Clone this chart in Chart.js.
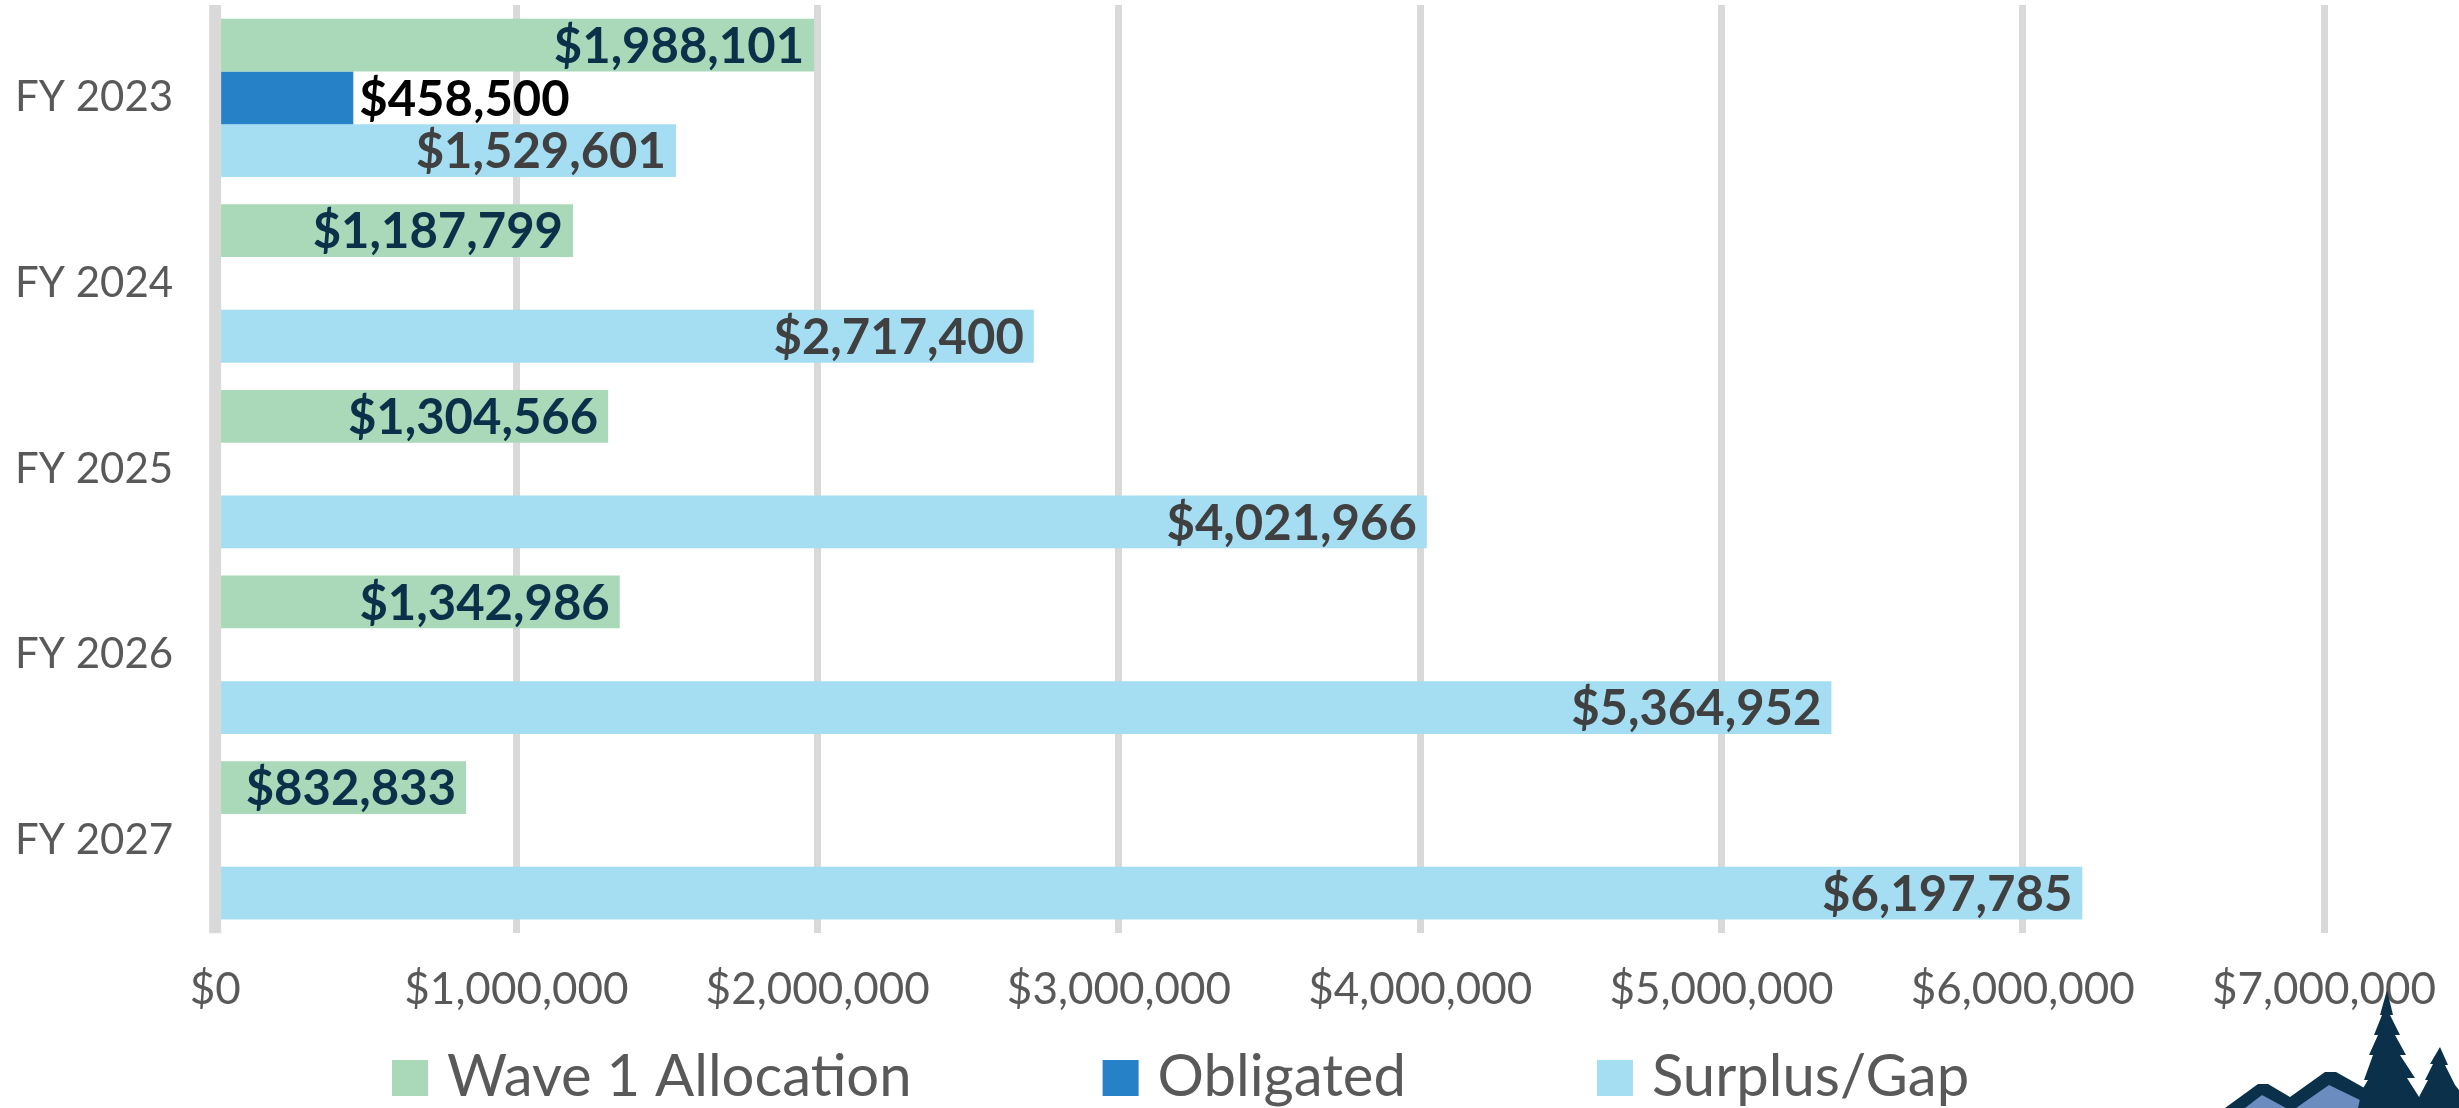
<!DOCTYPE html>
<html>
<head>
<meta charset="utf-8">
<title>Wave 1 Allocation vs Surplus/Gap</title>
<script src="https://cdn.jsdelivr.net/npm/chart.js@4.4.1/dist/chart.umd.min.js"></script>
<style>
    html, body { margin: 0; padding: 0; background: #ffffff; }
    #wrap { width: 2459px; height: 1108px; }
</style>
</head>
<body>
<div id="wrap"><canvas id="barChart" width="2459" height="1108"></canvas></div>
<script>
// chart values
var years = ['FY 2023', 'FY 2024', 'FY 2025', 'FY 2026', 'FY 2027'];
var wave1Allocation = [1988101, 1187799, 1304566, 1342986, 832833];
var obligated = [458500, null, null, null, null];
var surplusGap = [1529601, 2717400, 4021966, 5364952, 6197785];
var xTicks = [0, 1000000, 2000000, 3000000, 4000000, 5000000, 6000000, 7000000];

function money(v) {
    return '$' + Number(v).toLocaleString('en-US');
}

// value labels at the end of each bar
var barLabels = {
    id: 'barLabels',
    afterDatasetsDraw: function(chart) {
        var ctx = chart.ctx;
        ctx.save();
        ctx.font = 'bold 49px Lato';
        ctx.textBaseline = 'middle';
        chart.data.datasets.forEach(function(ds, i) {
            var meta = chart.getDatasetMeta(i);
            meta.data.forEach(function(bar, j) {
                var v = ds.data[j];
                if (v === null || v === undefined) return;
                ctx.fillStyle = ds.labelColor;
                if (ds.labelOutside) {
                    ctx.textAlign = 'left';
                    ctx.fillText(money(v), bar.x + 6, bar.y + 2);
                } else {
                    ctx.textAlign = 'right';
                    ctx.fillText(money(v), bar.x - 10, bar.y + 2);
                }
            });
        });
        // axis line at zero sits over the bars
        var x0 = chart.scales.x.getPixelForValue(0);
        ctx.fillStyle = '#d9d9d9';
        ctx.fillRect(x0 - 6, chart.chartArea.top, 12, chart.chartArea.bottom - chart.chartArea.top);
        ctx.restore();
    }
};

// legend row under the axis, spaced like the original
var bottomLegend = {
    id: 'bottomLegend',
    afterDraw: function(chart) {
        var ctx = chart.ctx;
        ctx.save();
        ctx.font = '58px Lato';
        ctx.textBaseline = 'alphabetic';
        ctx.textAlign = 'left';
        var x = 392;
        var boxTop = 1060, box = 36;
        chart.data.datasets.forEach(function(ds) {
            ctx.fillStyle = ds.backgroundColor;
            ctx.fillRect(x, boxTop, box, box);
            ctx.fillStyle = '#595959';
            ctx.fillText(ds.label, x + box + 19, boxTop + box);
            x += box + 19 + ctx.measureText(ds.label).width + 191;
        });
        ctx.restore();
    }
};

// small tree/mountain mark in the corner
var cornerLogo = {
    id: 'cornerLogo',
    afterDraw: function(chart) {
        var ctx = chart.ctx;
        function poly(pts, color) {
            ctx.beginPath();
            ctx.moveTo(pts[0][0], pts[0][1]);
            for (var k = 1; k < pts.length; k++) ctx.lineTo(pts[k][0], pts[k][1]);
            ctx.closePath();
            ctx.fillStyle = color;
            ctx.fill();
        }
        ctx.save();
        poly([[2225,1108],[2258,1084],[2268,1084],[2290,1097],[2325,1072],[2336,1072],[2368,1090],[2368,1108]], '#0b3049');
        poly([[2245,1108],[2262,1095],[2286,1108]], '#6b8cbf');
        poly([[2296,1108],[2329,1085],[2362,1101],[2362,1108]], '#6b8cbf');
        poly([[2387,990],[2393,1015],[2390,1015],[2400,1035],[2395,1035],[2406,1055],[2400,1055],[2415,1078],[2407,1078],[2421,1100],[2421,1108],
              [2358,1108],[2362,1090],[2368,1080],[2364,1080],[2373,1055],[2369,1055],[2378,1035],[2374,1035],[2382,1015],[2380,1015]], '#0b3049');
        poly([[2440,1047],[2448,1065],[2445,1065],[2455,1085],[2459,1090],[2459,1108],[2415,1108],[2420,1095],[2428,1080],[2425,1080],[2433,1064],[2430,1064]], '#0b3049');
        ctx.restore();
    }
};

Chart.defaults.font.family = 'Lato';
Chart.defaults.color = '#595959';

var ctx = document.getElementById('barChart').getContext('2d');
var myChart = new Chart(ctx, {
    type: 'bar',
    data: {
        labels: years,
        datasets: [{
            label: 'Wave 1 Allocation',
            data: wave1Allocation,
            backgroundColor: '#a9d9b8',
            labelColor: '#0b3049'
        }, {
            label: 'Obligated',
            data: obligated,
            backgroundColor: '#2681c6',
            labelColor: '#000000',
            labelOutside: true
        }, {
            label: 'Surplus/Gap',
            data: surplusGap,
            backgroundColor: '#a5def3',
            labelColor: '#404040'
        }]
    },
    options: {
        indexAxis: 'y',
        responsive: false,
        animation: false,
        categoryPercentage: 0.853,
        barPercentage: 1.0,
        layout: {
            padding: { top: 5, left: 15, right: 23, bottom: 62 }
        },
        plugins: {
            legend: { display: false },
            tooltip: { enabled: false }
        },
        scales: {
            x: {
                min: 0,
                max: 7000000,
                afterBuildTicks: function(axis) {
                    axis.ticks = xTicks.map(function(v) { return { value: v }; });
                },
                afterFit: function(scale) {
                    // room for half of the last tick label only
                    scale.paddingRight = 135;
                },
                grid: {
                    color: '#d9d9d9',
                    lineWidth: 7,
                    drawTicks: false
                },
                border: { display: false },
                ticks: {
                    padding: 30,
                    font: { size: 44 },
                    color: '#595959',
                    maxRotation: 0,
                    callback: function(value) { return money(value); }
                }
            },
            y: {
                grid: { display: false, drawTicks: false },
                border: { display: false },
                afterFit: function(scale) {
                    // padding counts once on the left, and not above/below the labels
                    scale.width -= 42;
                    scale.paddingTop = 0;
                    scale.paddingBottom = 0;
                },
                ticks: {
                    padding: 42,
                    font: { size: 42 },
                    color: '#595959'
                }
            }
        }
    },
    plugins: [barLabels, bottomLegend, cornerLogo]
});
</script>
</body>
</html>
